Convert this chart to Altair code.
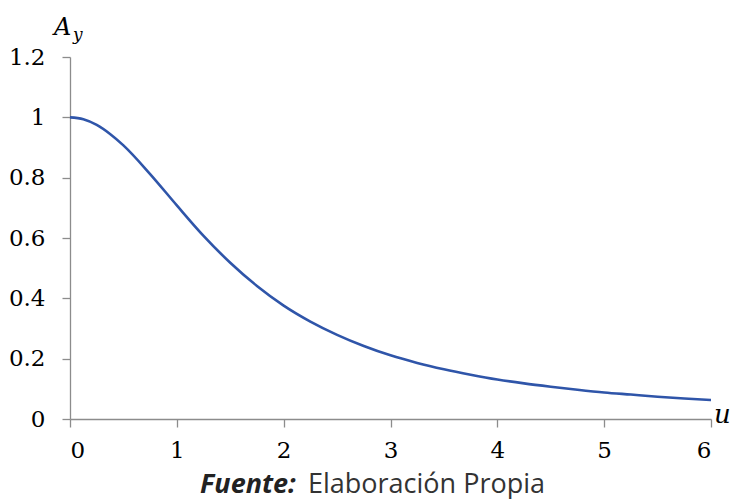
import altair as alt
import pandas as pd

# Values
u_vals = [0, 0.125, 0.25, 0.375, 0.5, 0.75, 1.0, 1.25, 1.5, 1.75, 2.0, 2.25, 2.5, 2.75, 3.0,
          3.25, 3.5, 3.75, 4.0, 4.25, 4.5, 4.75, 5.0, 5.25, 5.5, 5.75, 6.0]
ay_vals = [1.0, 0.994, 0.975, 0.945, 0.907, 0.812, 0.708, 0.607, 0.518, 0.441, 0.376, 0.323,
           0.279, 0.242, 0.211, 0.186, 0.165, 0.147, 0.131, 0.118, 0.107, 0.097, 0.088,
           0.081, 0.074, 0.068, 0.063]
x_ticks = [0, 1, 2, 3, 4, 5, 6]
y_ticks = [0, 0.2, 0.4, 0.6, 0.8, 1.0, 1.2]
y_title = "A"
y_sub = "y"
x_title = "u"
src_bold = "Fuente:"
src_rest = "Elaboración Propia"

df = pd.DataFrame({"u": u_vals, "Ay": ay_vals})

SERIF = "DejaVu Serif"
W, H = 641, 362
axis_common = dict(
    grid=False, title=None, domainColor="#8c8c8c", tickColor="#8c8c8c",
    domainWidth=1.3, tickWidth=1.3, tickSize=8,
    labelFont=SERIF, labelFontSize=23, labelColor="#000000",
)

line = alt.Chart(df).mark_line(color="#2F55A9", strokeWidth=2.6, interpolate="monotone").encode(
    x=alt.X("u:Q", scale=alt.Scale(domain=[0, 6], nice=False, zero=False),
            axis=alt.Axis(values=x_ticks, labelPadding=12, format="~g", **axis_common)),
    y=alt.Y("Ay:Q", scale=alt.Scale(domain=[0, 1.2], nice=False),
            axis=alt.Axis(values=y_ticks, labelPadding=17, format="~g", **axis_common)),
)

def txt(t, x, y, **kw):
    return alt.Chart(pd.DataFrame({"t": [t]})).mark_text(**kw).encode(
        text="t:N", x=alt.value(x), y=alt.value(y))

ya = txt(y_title, -16, -22, font=SERIF, fontSize=24, fontStyle="italic",
         align="left", baseline="alphabetic", color="#000000")
ys = txt(y_sub, 3, -17, font=SERIF, fontSize=17, fontStyle="italic",
         align="left", baseline="alphabetic", color="#000000")
xu = txt(x_title, 644, 366, font=SERIF, fontSize=26, fontStyle="italic",
         align="left", baseline="alphabetic", color="#000000")
f1 = txt(src_bold, 130, 436, font="Open Sans", fontSize=27, fontStyle="italic", fontWeight="bold",
         align="left", baseline="alphabetic", color="#222222")
f2 = txt(src_rest, 238, 436, font="Open Sans", fontSize=27,
         align="left", baseline="alphabetic", color="#333333")

chart = alt.layer(line, ya, ys, xu, f1, f2).properties(
    width=W, height=H,
    autosize=alt.AutoSizeParams(type="none"),
    padding={"left": 62, "top": 49, "right": 20, "bottom": 80},
).configure_view(stroke=None)

chart.save("out.html", embed_options={"renderer": "svg", "actions": False})
